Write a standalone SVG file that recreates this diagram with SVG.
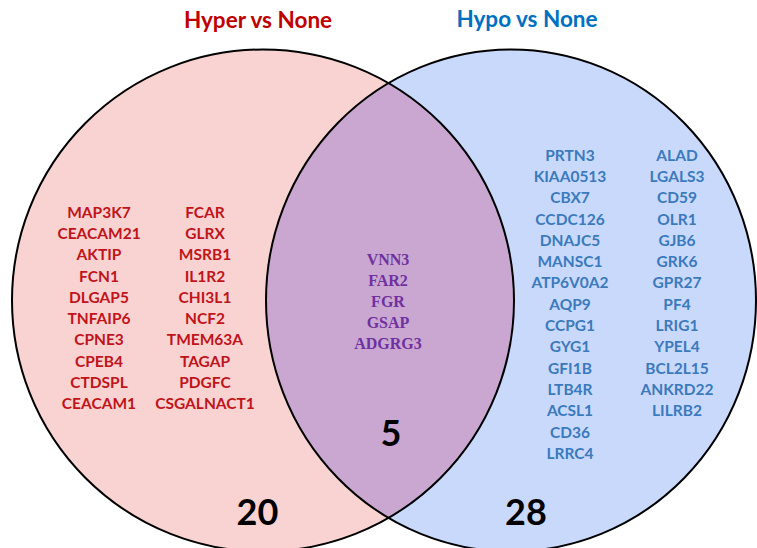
<svg xmlns="http://www.w3.org/2000/svg" width="757" height="548" viewBox="0 0 757 548">
<defs>
<clipPath id="clipLeft"><circle cx="263" cy="300.5" r="251"/></clipPath>
<style>
.outline{fill:none;stroke:#000;stroke-width:2}
.title{font-family:Lato,"Open Sans",sans-serif;font-weight:bold;font-size:22.5px;text-anchor:middle}
.gr{font-family:Lato,"Open Sans",sans-serif;font-weight:bold;font-size:15.5px;fill:#C0141A;text-anchor:middle}
.gb{font-family:Lato,"Open Sans",sans-serif;font-weight:bold;font-size:15.5px;fill:#3A7ABD;text-anchor:middle}
.gp{font-family:"Liberation Serif",serif;font-weight:bold;font-size:16px;fill:#7030A0;text-anchor:middle}
.num{font-family:Lato,"Open Sans",sans-serif;font-weight:bold;font-size:36px;fill:#000;text-anchor:middle}
</style>
</defs>
<g id="set-hyper">
<circle cx="263" cy="300.5" r="251" fill="#F9D3D2"/>
</g>
<g id="set-hypo">
<ellipse cx="511" cy="300.5" rx="245" ry="251" fill="#C9D9FB"/>
</g>
<g id="overlap">
<ellipse cx="511" cy="300.5" rx="245" ry="251" fill="#C9A7D1" clip-path="url(#clipLeft)"/>
</g>
<g id="outlines">
<circle class="outline" cx="263" cy="300.5" r="251"/>
<ellipse class="outline" cx="511" cy="300.5" rx="245" ry="251"/>
</g>
<g id="title-hyper"><text class="title" x="258" y="28" fill="#C00000">Hyper vs None</text></g>
<g id="title-hypo"><text class="title" x="527" y="27" fill="#0070C0">Hypo vs None</text></g>
<g id="genes-hyper">
<text class="gr" x="99" y="217.6">MAP3K7</text>
<text class="gr" x="99" y="238.9">CEACAM21</text>
<text class="gr" x="99" y="260.2">AKTIP</text>
<text class="gr" x="99" y="281.5">FCN1</text>
<text class="gr" x="99" y="302.8">DLGAP5</text>
<text class="gr" x="99" y="324.1">TNFAIP6</text>
<text class="gr" x="99" y="345.4">CPNE3</text>
<text class="gr" x="99" y="366.7">CPEB4</text>
<text class="gr" x="99" y="388">CTDSPL</text>
<text class="gr" x="99" y="409.3">CEACAM1</text>
<text class="gr" x="205" y="217.6">FCAR</text>
<text class="gr" x="205" y="238.9">GLRX</text>
<text class="gr" x="205" y="260.2">MSRB1</text>
<text class="gr" x="205" y="281.5">IL1R2</text>
<text class="gr" x="205" y="302.8">CHI3L1</text>
<text class="gr" x="205" y="324.1">NCF2</text>
<text class="gr" x="205" y="345.4">TMEM63A</text>
<text class="gr" x="205" y="366.7">TAGAP</text>
<text class="gr" x="205" y="388">PDGFC</text>
<text class="gr" x="205" y="409.3">CSGALNACT1</text>
</g>
<g id="genes-both">
<text class="gp" x="388" y="264.5">VNN3</text>
<text class="gp" x="388" y="285.5">FAR2</text>
<text class="gp" x="388" y="306.5">FGR</text>
<text class="gp" x="388" y="327.5">GSAP</text>
<text class="gp" x="388" y="348.5">ADGRG3</text>
</g>
<g id="genes-hypo">
<text class="gb" x="570" y="160.6">PRTN3</text>
<text class="gb" x="570" y="181.9">KIAA0513</text>
<text class="gb" x="570" y="203.2">CBX7</text>
<text class="gb" x="570" y="224.5">CCDC126</text>
<text class="gb" x="570" y="245.8">DNAJC5</text>
<text class="gb" x="570" y="267.1">MANSC1</text>
<text class="gb" x="570" y="288.4">ATP6V0A2</text>
<text class="gb" x="570" y="309.7">AQP9</text>
<text class="gb" x="570" y="331">CCPG1</text>
<text class="gb" x="570" y="352.3">GYG1</text>
<text class="gb" x="570" y="373.6">GFI1B</text>
<text class="gb" x="570" y="394.9">LTB4R</text>
<text class="gb" x="570" y="416.2">ACSL1</text>
<text class="gb" x="570" y="437.5">CD36</text>
<text class="gb" x="570" y="458.8">LRRC4</text>
<text class="gb" x="677" y="160.6">ALAD</text>
<text class="gb" x="677" y="181.9">LGALS3</text>
<text class="gb" x="677" y="203.2">CD59</text>
<text class="gb" x="677" y="224.5">OLR1</text>
<text class="gb" x="677" y="245.8">GJB6</text>
<text class="gb" x="677" y="267.1">GRK6</text>
<text class="gb" x="677" y="288.4">GPR27</text>
<text class="gb" x="677" y="309.7">PF4</text>
<text class="gb" x="677" y="331">LRIG1</text>
<text class="gb" x="677" y="352.3">YPEL4</text>
<text class="gb" x="677" y="373.6">BCL2L15</text>
<text class="gb" x="677" y="394.9">ANKRD22</text>
<text class="gb" x="677" y="416.2">LILRB2</text>
</g>
<g id="counts">
<text class="num" x="257.5" y="525">20</text>
<text class="num" x="391" y="446">5</text>
<text class="num" x="526" y="525">28</text>
</g>
</svg>
